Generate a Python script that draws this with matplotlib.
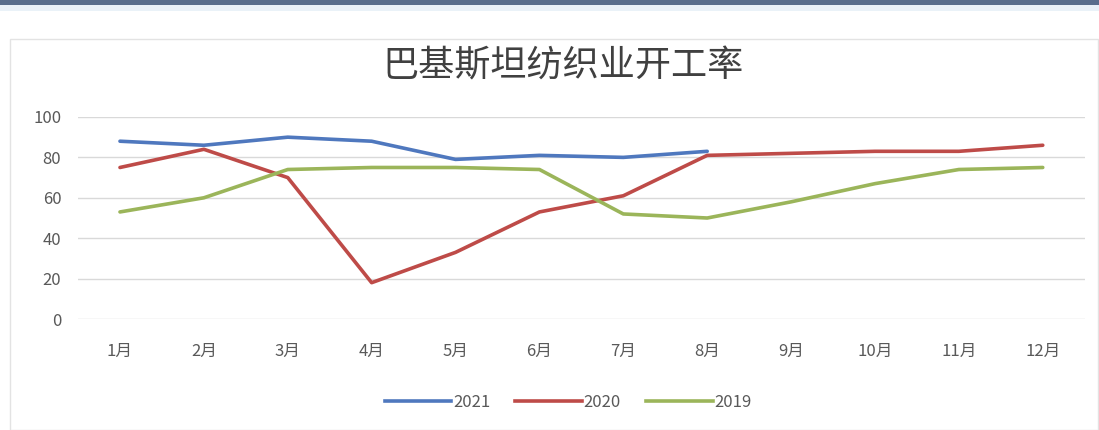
import matplotlib
matplotlib.use("Agg")
import matplotlib.pyplot as plt
import numpy as np
from matplotlib.patches import Rectangle
from matplotlib.lines import Line2D

plt.rcParams['font.family'] = ['Noto Sans CJK SC', 'DejaVu Sans']

months = ["1月", "2月", "3月", "4月", "5月", "6月", "7月", "8月", "9月", "10月", "11月", "12月"]
y2021 = [88, 86, 90, 88, 79, 81, 80, 83, None, None, None, None]
y2020 = [75, 84, 70, 18, 33, 53, 61, 81, 82, 83, 83, 86]
y2019 = [53, 60, 74, 75, 75, 74, 52, 50, 58, 67, 74, 75]
series_names = ["2021", "2020", "2019"]
colors = ["#4F78BE", "#BE4B48", "#9BB55A"]

fig = plt.figure(figsize=(10.99, 4.30), dpi=100)
fig.patch.set_facecolor("white")

# page frame
fig.add_artist(Rectangle((0, 0.988), 1, 0.012, transform=fig.transFigure,
                         facecolor="#5A6E8C", edgecolor="none"))
fig.add_artist(Rectangle((0, 0.975), 1, 0.013, transform=fig.transFigure,
                         facecolor="#EAF2F8", edgecolor="none"))
fig.add_artist(Rectangle((0.009, 0.0), 0.99, 0.91, transform=fig.transFigure,
                         facecolor="none", edgecolor="#E3E3E3", linewidth=1.0))

ax = fig.add_axes([0.071, 0.258, 0.916, 0.470])
x = np.arange(len(months))

def to_arr(v):
    return np.array([np.nan if a is None else a for a in v], dtype=float)

for data, name, c in zip([y2021, y2020, y2019], series_names, colors):
    ax.plot(x, to_arr(data), color=c, linewidth=2.6, label=name, solid_capstyle="round")

ax.set_xlim(-0.5, len(months) - 0.5)
ax.set_ylim(0, 100)
ax.set_yticks([0, 20, 40, 60, 80, 100])
ax.set_xticks(x)
ax.set_xticklabels(months)
ax.grid(axis="y", color="#D9D9D9", linewidth=1.0)
ax.set_axisbelow(True)
for s in ax.spines.values():
    s.set_visible(False)
ax.tick_params(axis="both", length=0, labelsize=12, colors="#595959")
ax.tick_params(axis="y", pad=12)
ax.tick_params(axis="x", pad=17)

fig.text(0.512, 0.845, "巴基斯坦纺织业开工率", ha="center", va="center",
         fontsize=26, color="#404040")

handles = [Line2D([0], [0], color=c, linewidth=2.6) for c in colors]
fig.legend(handles, series_names, loc="center", bbox_to_anchor=(0.517, 0.065),
           ncol=3, frameon=False, fontsize=12, labelcolor="#595959",
           handlelength=4.0, handletextpad=0.1, columnspacing=1.5)

fig.savefig("out.png", dpi=100, facecolor="white")
